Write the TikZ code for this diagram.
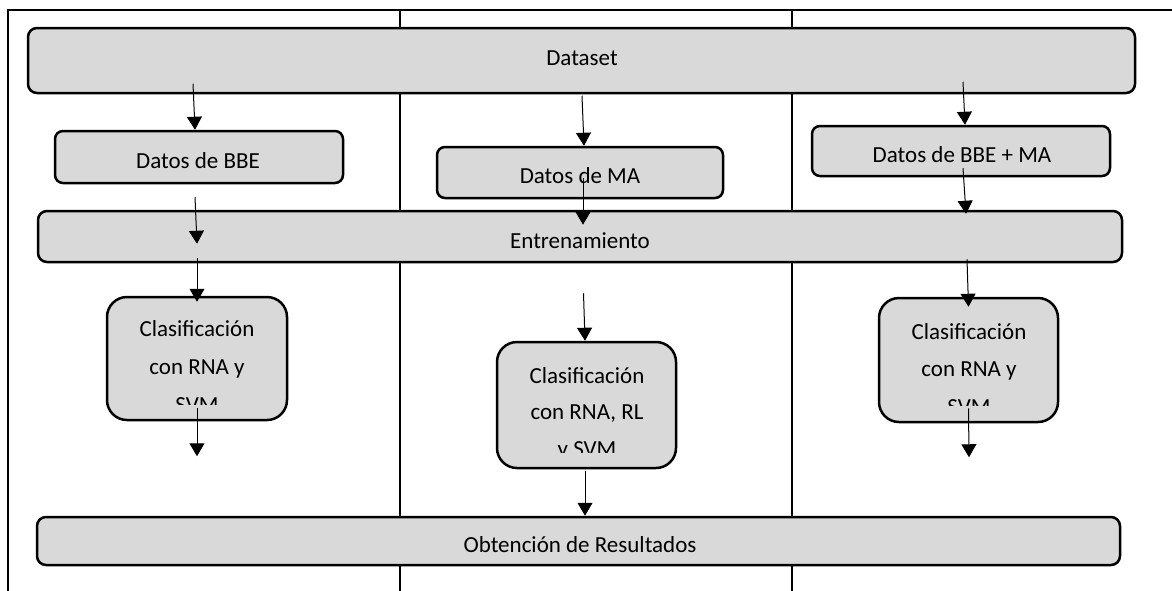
\documentclass[tikz,border=0pt]{standalone}
\usepackage{fontspec}
\setmainfont{Carlito}
\usetikzlibrary{arrows.meta,calc}
\definecolor{boxfill}{RGB}{217,217,217}
\tikzset{
  box/.style={draw=black, line width=1.25pt, fill=boxfill, inner sep=0pt},
  wide/.style={box, rounded corners=4.5pt},
  small/.style={box, rounded corners=4pt},
  tall/.style={box, rounded corners=10pt},
  lbl/.style={anchor=base, inner sep=0pt, font=\fontsize{11.5}{19}\selectfont},
  frame/.style={line width=1pt, line cap=rect},
  arr/.style={line width=0.5pt, -{Triangle[length=6.5pt,width=7.5pt]}}
}
\begin{document}
\begin{tikzpicture}[x=0.5pt,y=-0.5pt]
\useasboundingbox (0,0) rectangle (1172,590);

% table lines
\draw[frame] (8,590) -- (8,9.5) -- (1172,9.5);
\draw[frame] (400,9.5) -- (400,590);
\draw[frame] (792,9.5) -- (792,590);

% boxes
\node[wide, minimum width=553.5pt, minimum height=32.5pt] (dataset) at (581.5,60.5) {};
\node[small, minimum width=144pt, minimum height=26pt] (bbe) at (199,157) {};
\node[small, minimum width=143pt, minimum height=25.5pt] (ma) at (580,172.5) {};
\node[small, minimum width=149pt, minimum height=25pt] (bbema) at (961,151) {};
\node[wide, minimum width=542pt, minimum height=25.5pt] (train) at (580,236.5) {};
\node[tall, minimum width=90pt, minimum height=61.5pt] (clsL) at (197,358.5) {};
\node[tall, minimum width=89.5pt, minimum height=63pt] (clsM) at (586.5,405) {};
\node[tall, minimum width=89.5pt, minimum height=62pt] (clsR) at (968.5,360) {};
\node[wide, minimum width=541.5pt, minimum height=24pt] (result) at (578.5,541) {};

% single-line labels
\node[lbl] (dataset-t) at (582,65) {Dataset};
\node[lbl] (bbe-t) at (198,168) {Datos de BBE};
\node[lbl] (ma-t) at (580,183) {Datos de MA};
\node[lbl] (bbema-t) at (962,162) {Datos de BBE + MA};
\node[lbl] (train-t) at (580,248) {Entrenamiento};
\node[lbl] (result-t) at (580,552) {Obtención de Resultados};

% classifier labels, cut off at the lower inner edge of their boxes
\begin{scope}
  \clip (107,297) rectangle (287,404);
  \node[lbl] (clsL-1) at (197,336) {Clasificación};
  \node[lbl] (clsL-2) at (197,374) {con RNA y};
  \node[lbl] (clsL-3) at (197,412) {SVM};
\end{scope}
\begin{scope}
  \clip (497,342) rectangle (676,452);
  \node[lbl] (clsM-1) at (587,383) {Clasificación};
  \node[lbl] (clsM-2) at (587,419) {con RNA, RL};
  \node[lbl] (clsM-3) at (587,456) {y SVM};
\end{scope}
\begin{scope}
  \clip (879,298) rectangle (1058,405);
  \node[lbl] (clsR-1) at (969,339) {Clasificación};
  \node[lbl] (clsR-2) at (969,376) {con RNA y};
  \node[lbl] (clsR-3) at (969,414) {SVM};
\end{scope}

% open ends of the last arrows in the outer columns
\coordinate (endL) at ($(clsL.south)+(0,35)$);
\coordinate (endR) at ($(clsR.south)+(0.5,34)$);

% left column
\draw[arr] ($(bbe.north)+(-6,-46)$) -- ($(bbe.north)+(-4,0)$);
\draw[arr] ($(bbe.south)+(-4,13)$) -- ($(train.north -| bbe.south)+(-2,34)$);
\draw[arr] ($(train.south -| clsL.north)+(0,-5)$) -- ($(clsL.north)+(0,6)$);
\draw[arr] ($(clsL.south)+(0,-13)$) -- (endL);

% middle column
\draw[arr] ($(ma.north)+(2,-50)$) -- ($(ma.north)+(4,0)$);
\draw[arr] ($(ma.south)+(3,-21)$) -- ($(train.north -| ma.south)+(3,15)$);
\draw[arr] ($(train.south -| clsM.north)+(-3,30)$) -- ($(clsM.north)+(-1.5,0)$);
\draw[arr] ($(clsM.south)+(-1.5,2)$) -- ($(result.north -| clsM.south)+(-1.5,0)$);

% right column
\draw[arr] ($(bbema.north)+(2,-43)$) -- ($(bbema.north)+(4,0)$);
\draw[arr] ($(bbema.south)+(2,-9)$) -- ($(train.north -| bbema.south)+(5,4)$);
\draw[arr] ($(train.south -| clsR.north)+(-1.5,-4)$) -- ($(clsR.north)+(0,10)$);
\draw[arr] ($(clsR.south)+(0,-15)$) -- (endR);
\end{tikzpicture}
\end{document}
